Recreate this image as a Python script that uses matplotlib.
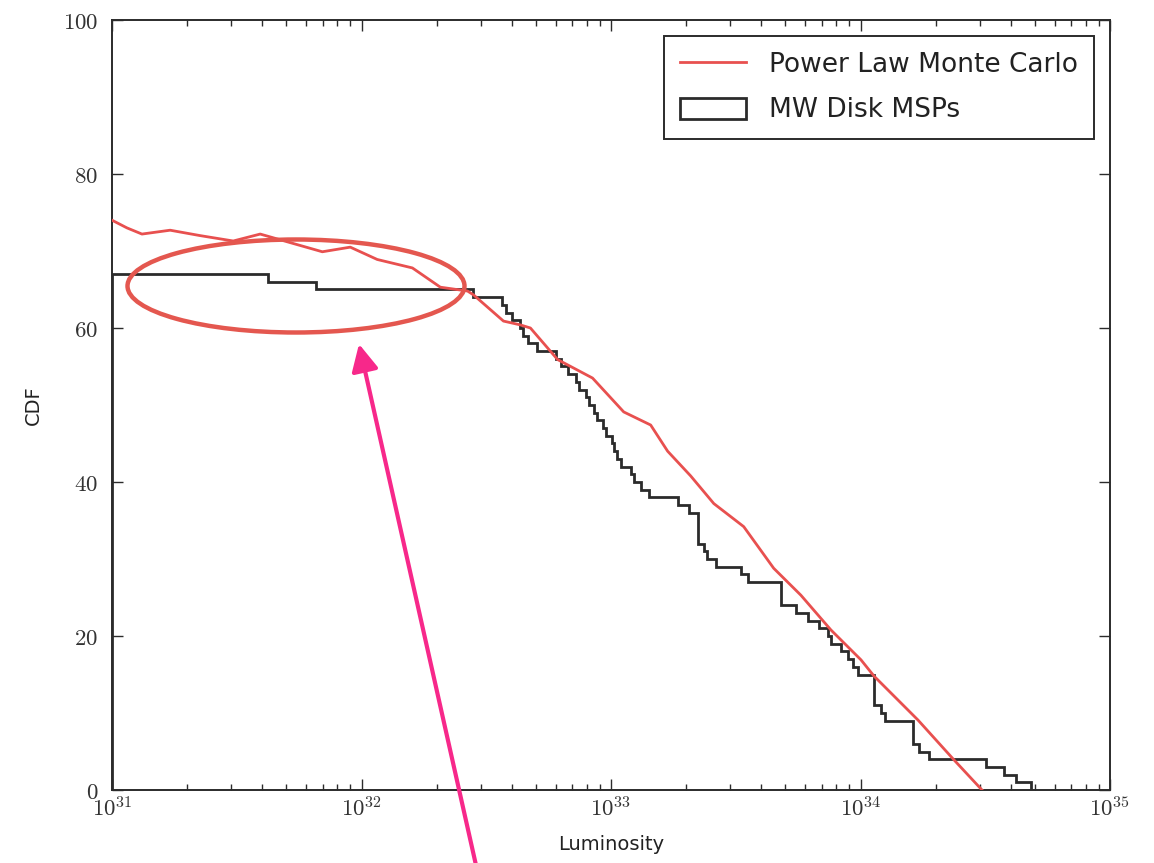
import numpy as np
import matplotlib
matplotlib.use("Agg")
import matplotlib.pyplot as plt
from matplotlib.patches import Ellipse, Patch
from matplotlib.lines import Line2D
from matplotlib.ticker import LogLocator, NullLocator, FixedLocator, FixedFormatter

plt.rcParams["mathtext.fontset"] = "cm"
plt.rcParams["font.family"] = ["DejaVu Sans"]

# Power-law Monte Carlo CDF (log10 luminosity, CDF value)
mc_log_lum = [31.000, 31.060, 31.120, 31.233, 31.353, 31.486, 31.594, 31.702,
              31.843, 31.955, 32.063, 32.204, 32.316, 32.425, 32.449, 32.569,
              32.637, 32.677, 32.786, 32.926, 33.051, 33.159, 33.227, 33.319,
              33.412, 33.532, 33.652, 33.761, 33.881, 34.002, 34.054, 34.230,
              34.375, 34.487]
mc_cdf = [74.0, 73.0, 72.2, 72.7, 72.0, 71.3, 72.2, 71.2,
          69.9, 70.5, 68.9, 67.8, 65.3, 64.8, 64.3, 60.9,
          60.4, 60.0, 55.9, 53.5, 49.1, 47.4, 44.0, 40.8,
          37.2, 34.2, 28.8, 25.3, 20.8, 16.9, 14.8, 9.1,
          3.9, 0.0]

# Milky Way disk MSPs: cumulative count above each luminosity bin edge
msp_edges_log = [31.000, 31.626, 31.819, 32.445, 32.565, 32.581, 32.605, 32.637,
                 32.649, 32.669, 32.705, 32.778, 32.798, 32.826, 32.858, 32.870,
                 32.898, 32.910, 32.930, 32.942, 32.966, 32.978, 33.006, 33.014,
                 33.026, 33.039, 33.079, 33.091, 33.119, 33.151, 33.267, 33.311,
                 33.348, 33.372, 33.384, 33.420, 33.520, 33.548, 33.681, 33.741,
                 33.789, 33.833, 33.869, 33.881, 33.921, 33.949, 33.969, 33.990,
                 34.054, 34.082, 34.098, 34.210, 34.234, 34.274, 34.503, 34.575,
                 34.624, 34.684]
msp_counts = [67, 66, 65, 64, 63, 62, 61, 60,
              59, 58, 57, 56, 55, 54, 53, 52,
              51, 50, 49, 48, 47, 46, 45, 44,
              43, 42, 41, 40, 39, 38, 37, 36,
              32, 31, 30, 29, 28, 27, 24, 23,
              22, 21, 20, 19, 18, 17, 16, 15,
              11, 10, 9, 6, 5, 4, 3, 2,
              1]

x_tick_exps = [31, 32, 33, 34, 35]
y_ticks = [0, 20, 40, 60, 80, 100]

red = "#e8504f"
dark = "#2b2b2b"

fig = plt.figure(figsize=(11.54, 8.63), dpi=100)
ax = fig.add_axes([112 / 1154, 1 - 790 / 863, 998 / 1154, 770 / 863])

ax.plot(10.0 ** np.array(mc_log_lum), mc_cdf, color=red, lw=2.0, zorder=3)
ax.stairs(msp_counts, 10.0 ** np.array(msp_edges_log), baseline=0,
          color=dark, lw=2.0, zorder=2)

ax.set_xscale("log")
ax.set_xlim(1e31, 1e35)
ax.set_ylim(0, 100)

ax.xaxis.set_major_locator(FixedLocator([10.0 ** e for e in x_tick_exps]))
ax.xaxis.set_major_formatter(FixedFormatter([r"$10^{%d}$" % e for e in x_tick_exps]))
ax.xaxis.set_minor_locator(LogLocator(base=10, subs=np.arange(2, 10)))
ax.yaxis.set_major_locator(FixedLocator(y_ticks))
ax.yaxis.set_major_formatter(FixedFormatter([r"$%d$" % v for v in y_ticks]))
ax.yaxis.set_minor_locator(NullLocator())

ax.tick_params(which="both", direction="in", top=True, right=True,
               colors=dark, labelcolor="#333333")
ax.tick_params(which="major", length=8, width=1.0, labelsize=16.5)
ax.tick_params(which="minor", length=4, width=1.0)
ax.tick_params(axis="x", which="major", pad=5)
ax.tick_params(axis="y", which="major", pad=10)
for sp in ax.spines.values():
    sp.set_linewidth(1.4)
    sp.set_color(dark)

ax.set_xlabel("Luminosity", fontsize=14, color="#222222", labelpad=10)
ax.set_ylabel("CDF", fontsize=14, color="#222222", labelpad=14)

handles = [Line2D([], [], color=red, lw=2.0),
           Patch(facecolor="white", edgecolor=dark, lw=2.0)]
leg = ax.legend(handles, ["Power Law Monte Carlo", "MW Disk MSPs"],
                loc="upper right", fontsize=19, frameon=True, fancybox=False,
                framealpha=1, edgecolor=dark, handlelength=2.5,
                handleheight=0.85, borderaxespad=0.6, labelspacing=0.75,
                borderpad=0.6, handletextpad=0.9)
leg.get_frame().set_linewidth(1.4)
for t in leg.get_texts():
    t.set_color("#222222")

# highlight of the low-luminosity region
ell = Ellipse((296 / 1154, 1 - 286 / 863), 337 / 1154, 93 / 863,
              transform=fig.transFigure, fill=False, edgecolor="#e4574f",
              lw=3.2, zorder=10)
fig.add_artist(ell)

ax.annotate("", xy=(359, 863 - 344), xytext=(480, -20),
            xycoords="figure pixels", textcoords="figure pixels",
            arrowprops=dict(arrowstyle="-|>,head_length=0.6,head_width=0.3",
                            color="#f7288a", lw=3.0, mutation_scale=27,
                            shrinkA=0, shrinkB=0),
            annotation_clip=False)

fig.savefig("out.png", dpi=100)
